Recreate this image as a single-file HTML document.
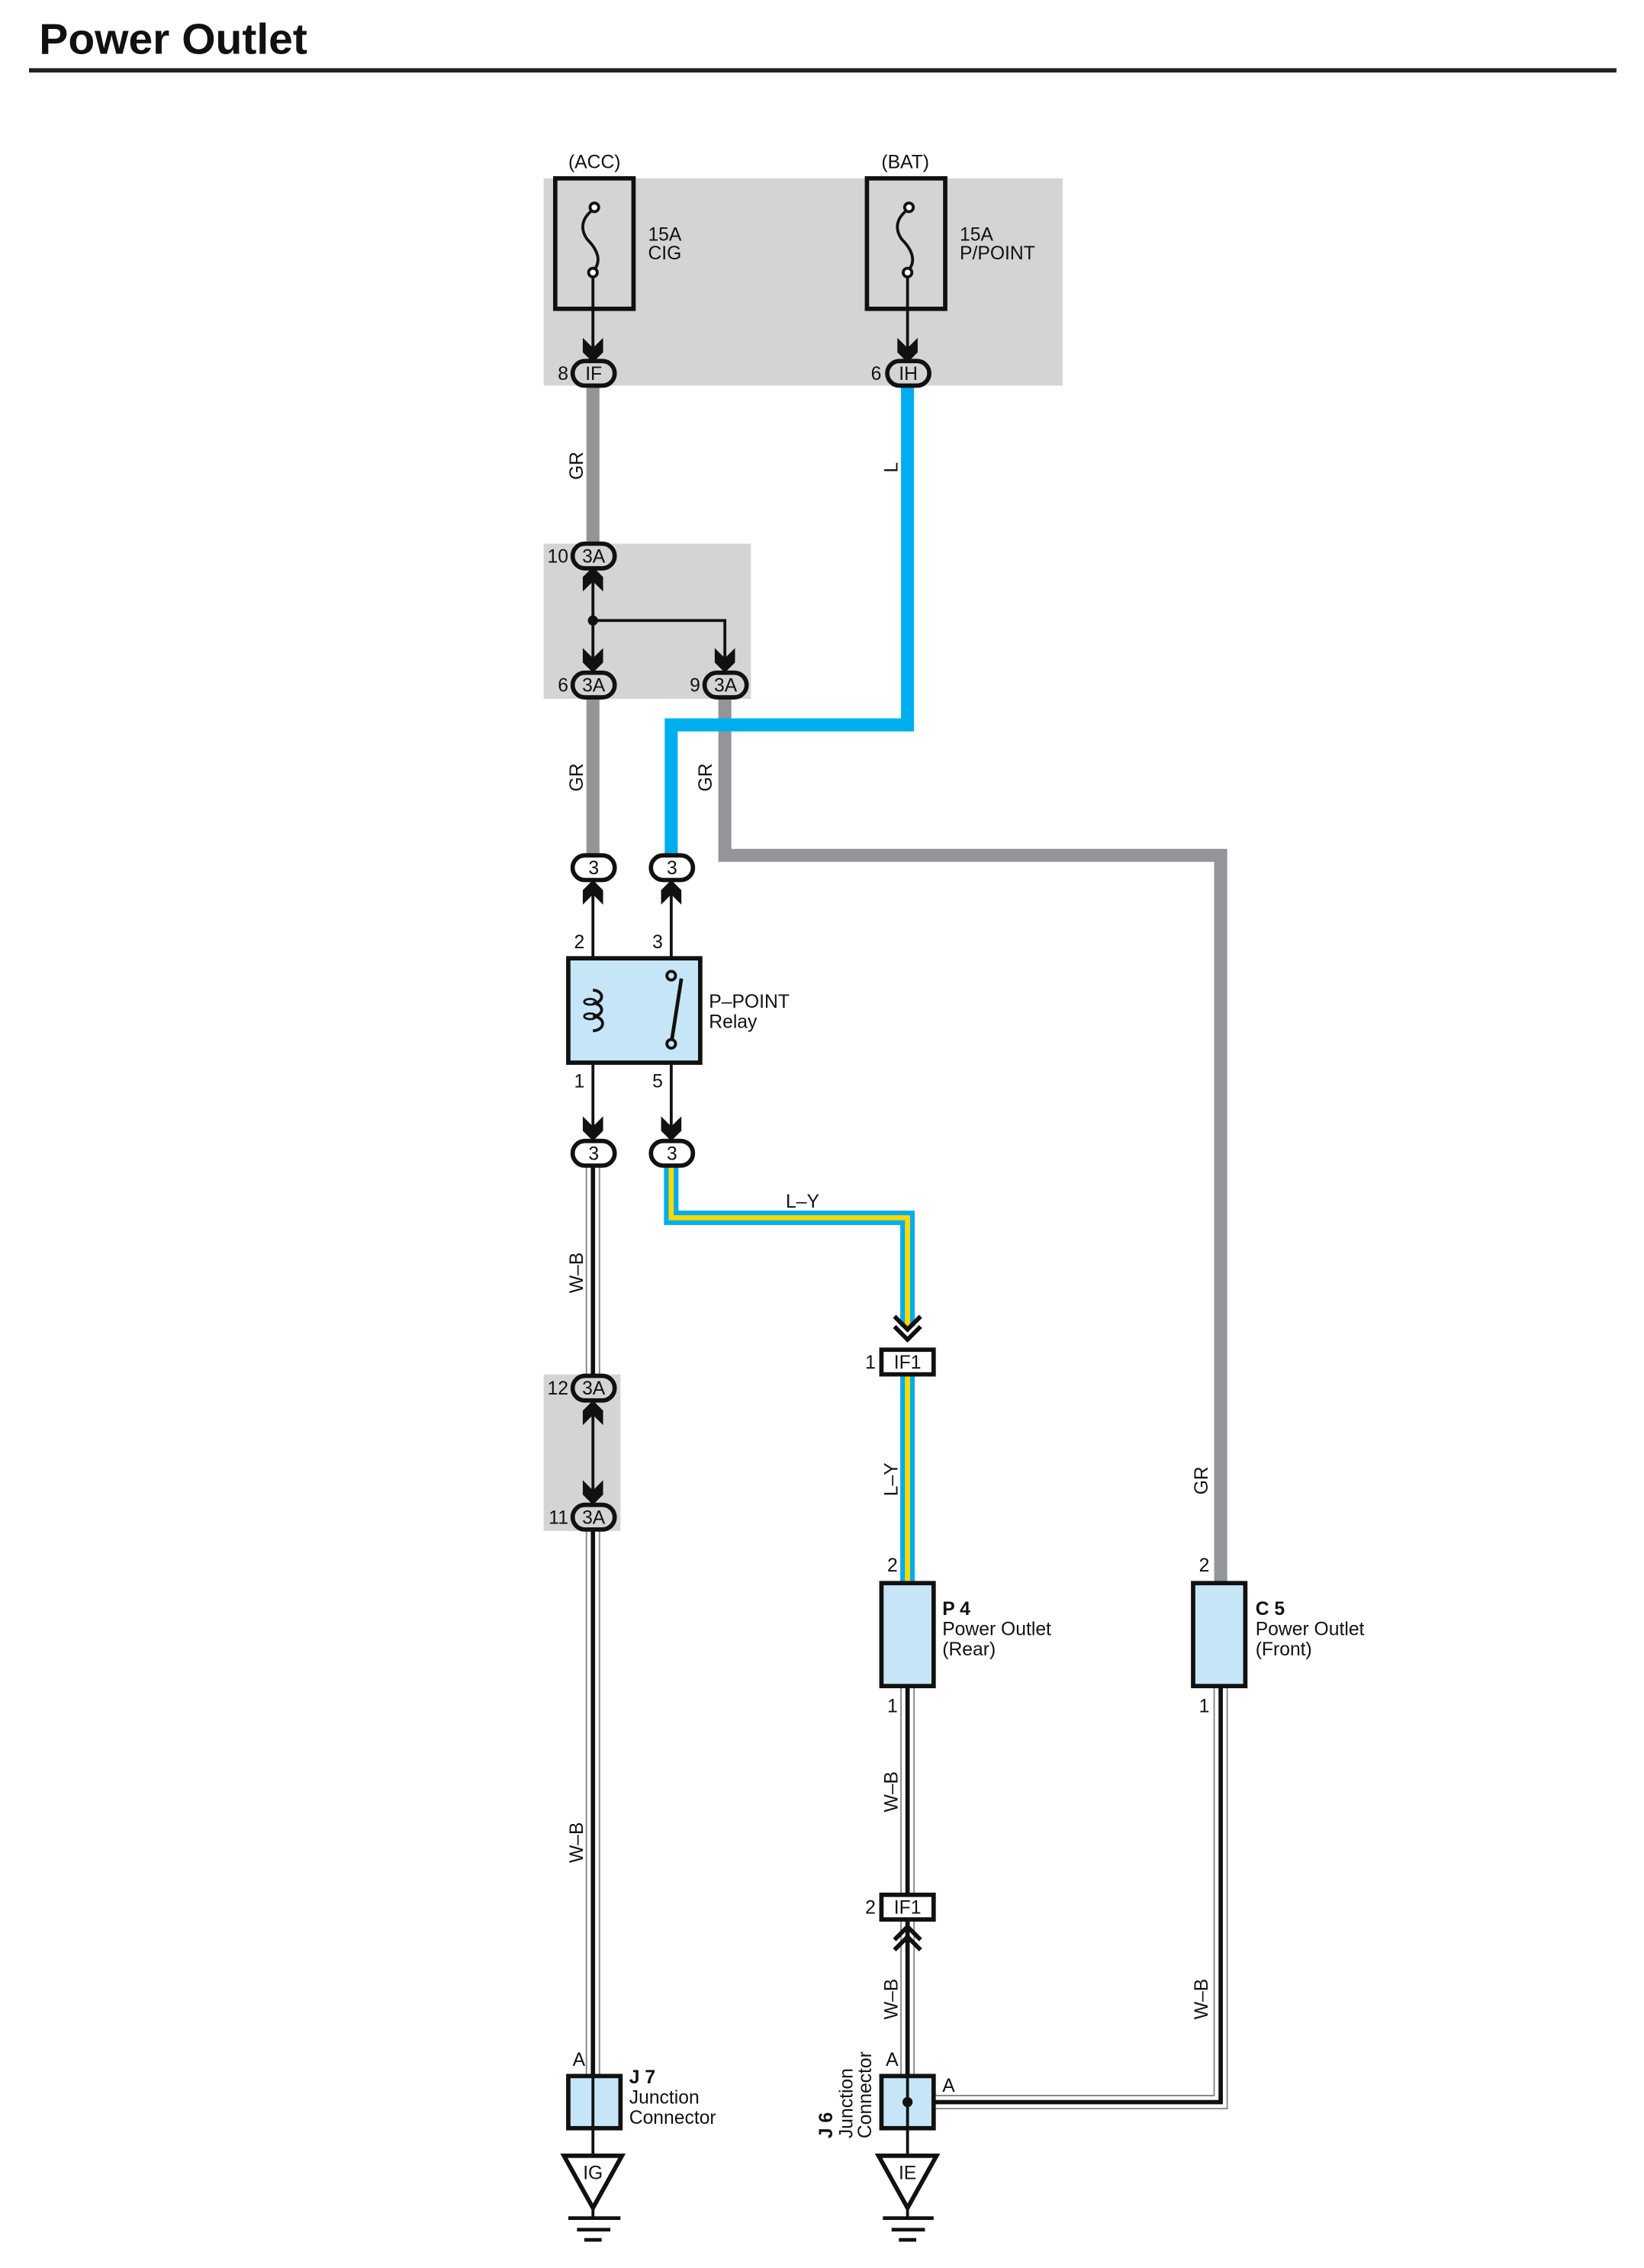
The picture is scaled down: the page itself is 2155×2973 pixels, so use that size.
<!DOCTYPE html>
<html><head><meta charset="utf-8"><style>
html,body{margin:0;padding:0;background:#fff;}
svg{display:block;}
text{font-family:"Liberation Sans",sans-serif;fill:#111;}
</style></head><body>
<svg width="2155" height="2973" viewBox="0 0 1134 1564.4" xmlns="http://www.w3.org/2000/svg">
<defs>
<g id="ad"><path d="M-7,-17 L0,-10 L7,-17 L7,-7 L0,0 L-7,-7 Z" fill="#111"/></g>
<g id="au"><path d="M-7,17 L0,10 L7,17 L7,7 L0,0 L-7,7 Z" fill="#111"/></g>
</defs>
<text x="27" y="37" font-size="30" font-weight="bold">Power Outlet</text>
<rect x="20" y="47" width="1095" height="3" fill="#222"/>

<rect x="375" y="123" width="358" height="143" fill="#d3d4d6"/>
<rect x="375" y="375" width="143" height="107" fill="#d3d4d6"/>
<rect x="375" y="948" width="53" height="108" fill="#d3d4d6"/>

<g fill="none" stroke-linejoin="miter">
<path d="M409,266 V375" stroke="#939598" stroke-width="9"/>
<path d="M409,482 V590" stroke="#939598" stroke-width="9"/>
<path d="M500,482 V590 H842 V1092" stroke="#939598" stroke-width="9"/>
<path d="M626,266 V500 H463 V590" stroke="#00aeef" stroke-width="9"/>
<path d="M463,804 V840 H626 V915" stroke="#00aeef" stroke-width="10"/>
<path d="M463,804 V840 H626 V915" stroke="#ffd800" stroke-width="3.5"/>
<path d="M626,948 V1092" stroke="#00aeef" stroke-width="10"/>
<path d="M626,948 V1092" stroke="#ffd800" stroke-width="3.5"/>
<path d="M409,804 V948 M409,1056 V1432 M626,1163 V1307 M626,1324 V1432 M842,1163 V1450 H644" stroke="#888" stroke-width="10"/>
<path d="M409,804 V948 M409,1056 V1432 M626,1163 V1307 M626,1324 V1432 M842,1163 V1450 H644" stroke="#fff" stroke-width="8"/>
<path d="M409,804 V948 M409,1056 V1432 M626,1163 V1307 M626,1324 V1432 M842,1163 V1450 H644" stroke="#111" stroke-width="3"/>
</g>

<g stroke="#111" stroke-width="2" fill="none">
<path d="M409,188 V250"/><path d="M626,188 V250"/>
<path d="M409,390 V465"/><path d="M409,428 H500 V465"/>
<path d="M409,606 V683"/><path d="M409,711 V787"/>
<path d="M463,722 V787"/>
<path d="M463,606 V670"/>
<path d="M409,975 V1040"/>
<path d="M409,1468 V1486"/><path d="M626,1468 V1486"/>
</g>

<g stroke="#111" fill="none">
<rect x="383" y="123" width="54" height="90" stroke-width="3"/>
<rect x="598" y="123" width="54" height="90" stroke-width="3"/>
<path d="M410,144 C401,150 400,158 405,165 C413,173 415,181 409,187" stroke-width="2"/>
<path d="M627,144 C618,150 617,158 622,165 C630,173 632,181 626,187" stroke-width="2"/>
<circle cx="410" cy="143" r="3" fill="#fff" stroke-width="2"/>
<circle cx="409" cy="188" r="3" fill="#fff" stroke-width="2"/>
<circle cx="627" cy="143" r="3" fill="#fff" stroke-width="2"/>
<circle cx="626" cy="188" r="3" fill="#fff" stroke-width="2"/>
</g>
<g font-size="13">
<text x="392" y="116">(ACC)</text>
<text x="608" y="116">(BAT)</text>
<text x="447" y="166">15A</text><text x="447" y="179">CIG</text>
<text x="662" y="166">15A</text><text x="662" y="179">P/POINT</text>
</g>

<use href="#ad" x="409" y="250"/><use href="#ad" x="626" y="250"/>
<use href="#au" x="409" y="391"/>
<use href="#ad" x="409" y="464"/><use href="#ad" x="500" y="464"/>
<use href="#au" x="409" y="607"/><use href="#au" x="463" y="607"/>
<use href="#ad" x="409" y="787"/><use href="#ad" x="463" y="787"/>
<use href="#au" x="409" y="966"/><use href="#ad" x="409" y="1038"/>
<g stroke="#111" stroke-width="3" fill="none">
<path d="M617,908 L626,917 L635,908 M617,915 L626,924 L635,915"/>
<path d="M617,1338 L626,1329 L635,1338 M617,1345 L626,1336 L635,1345"/>
</g>

<g stroke="#111" stroke-width="3">
<rect x="395" y="249" width="29" height="17" rx="8.5" fill="#d3d4d6"/>
<rect x="612" y="249" width="29" height="17" rx="8.5" fill="#d3d4d6"/>
<rect x="395" y="375" width="29" height="17" rx="8.5" fill="#d3d4d6"/>
<rect x="395" y="464" width="29" height="17" rx="8.5" fill="#d3d4d6"/>
<rect x="486" y="464" width="29" height="17" rx="8.5" fill="#d3d4d6"/>
<rect x="395" y="590" width="29" height="17" rx="8.5" fill="#fff"/>
<rect x="449" y="590" width="29" height="17" rx="8.5" fill="#fff"/>
<rect x="395" y="787" width="29" height="17" rx="8.5" fill="#fff"/>
<rect x="449" y="787" width="29" height="17" rx="8.5" fill="#fff"/>
<rect x="395" y="949" width="29" height="17" rx="8.5" fill="#d3d4d6"/>
<rect x="395" y="1038" width="29" height="17" rx="8.5" fill="#d3d4d6"/>
<rect x="608" y="931" width="36" height="17" fill="#fff"/>
<rect x="608" y="1307" width="36" height="17" fill="#fff"/>
</g>
<g font-size="13" text-anchor="middle">
<text x="409.5" y="262">IF</text><text x="626.5" y="262">IH</text>
<text x="409.5" y="388">3A</text><text x="409.5" y="477">3A</text><text x="500.5" y="477">3A</text>
<text x="409.5" y="603">3</text><text x="463.5" y="603">3</text>
<text x="409.5" y="800">3</text><text x="463.5" y="800">3</text>
<text x="409.5" y="962">3A</text><text x="409.5" y="1051">3A</text>
<text x="626" y="944">IF1</text><text x="626" y="1320">IF1</text>
</g>
<g font-size="13" text-anchor="end">
<text x="392" y="262">8</text><text x="608" y="262">6</text>
<text x="392" y="388">10</text><text x="392" y="477">6</text><text x="483" y="477">9</text>
<text x="392" y="962">12</text><text x="392" y="1051">11</text>
<text x="604" y="944">1</text><text x="604" y="1320">2</text>
</g>

<circle cx="409" cy="428" r="3.5" fill="#111"/>

<rect x="392" y="661" width="91" height="72" fill="#c6e6f8" stroke="#111" stroke-width="3"/>
<path d="M409,683 A6,4.5 0 0 1 409,692 A6,4.5 0 0 1 409,701 A6,4.5 0 0 1 409,711" fill="none" stroke="#111" stroke-width="2"/>
<ellipse cx="407" cy="691" rx="4" ry="2" fill="none" stroke="#111" stroke-width="1.5"/>
<ellipse cx="407" cy="701" rx="4" ry="2" fill="none" stroke="#111" stroke-width="1.5"/>
<path d="M463,720 L470,675" stroke="#111" stroke-width="2.5"/>
<circle cx="463" cy="673" r="3" fill="#c6e6f8" stroke="#111" stroke-width="2"/>
<circle cx="463" cy="720" r="3" fill="#c6e6f8" stroke="#111" stroke-width="2"/>
<g font-size="13">
<text x="396" y="654">2</text><text x="450" y="654">3</text>
<text x="396" y="750">1</text><text x="450" y="750">5</text>
<text x="489" y="695">P–POINT</text><text x="489" y="709">Relay</text>
<text x="542" y="833">L–Y</text>
</g>

<rect x="608" y="1092" width="36" height="71" fill="#c6e6f8" stroke="#111" stroke-width="3"/>
<rect x="823" y="1092" width="36" height="71" fill="#c6e6f8" stroke="#111" stroke-width="3"/>
<g font-size="13">
<text x="612" y="1084">2</text><text x="612" y="1181">1</text>
<text x="827" y="1084">2</text><text x="827" y="1181">1</text>
<text x="650" y="1114" font-weight="bold">P 4</text>
<text x="650" y="1128">Power Outlet</text><text x="650" y="1142">(Rear)</text>
<text x="866" y="1114" font-weight="bold">C 5</text>
<text x="866" y="1128">Power Outlet</text><text x="866" y="1142">(Front)</text>
</g>

<rect x="392" y="1432" width="36" height="36" fill="#c6e6f8" stroke="#111" stroke-width="3"/>
<rect x="608" y="1432" width="36" height="36" fill="#c6e6f8" stroke="#111" stroke-width="3"/>
<path d="M409,1432 V1468 M626,1432 V1468" stroke="#111" stroke-width="2"/>
<circle cx="626" cy="1450" r="3.5" fill="#111"/>
<g font-size="13">
<text x="395" y="1425">A</text><text x="611" y="1425">A</text><text x="650" y="1443">A</text>
<text x="434" y="1437" font-weight="bold">J 7</text>
<text x="434" y="1451">Junction</text><text x="434" y="1465">Connector</text>
<g transform="translate(574,1475) rotate(-90)"><text x="0" y="0" font-weight="bold">J 6</text></g>
<g transform="translate(588,1475) rotate(-90)"><text x="0" y="0">Junction</text></g>
<g transform="translate(601,1475) rotate(-90)"><text x="0" y="0">Connector</text></g>
</g>

<g stroke="#111" fill="#fff">
<path d="M389,1487 H429 L409,1523 Z" stroke-width="3"/>
<path d="M606,1487 H646 L626,1523 Z" stroke-width="3"/>
<path d="M392,1530 H428 M398,1538 H421 M403,1545 H415" stroke-width="2.5"/>
<path d="M609,1530 H644 M615,1538 H638 M620,1545 H632" stroke-width="2.5"/>
<path d="M409,1520 V1530 M626,1520 V1530" stroke-width="2"/>
</g>
<g font-size="13" text-anchor="middle">
<text x="409" y="1503">IG</text><text x="626" y="1503">IE</text>
</g>

<g font-size="13">
<g transform="translate(402,331) rotate(-90)"><text>GR</text></g>
<g transform="translate(402,546) rotate(-90)"><text>GR</text></g>
<g transform="translate(491,546) rotate(-90)"><text>GR</text></g>
<g transform="translate(619,326) rotate(-90)"><text>L</text></g>
<g transform="translate(402,892) rotate(-90)"><text>W–B</text></g>
<g transform="translate(402,1285) rotate(-90)"><text>W–B</text></g>
<g transform="translate(619,1032) rotate(-90)"><text>L–Y</text></g>
<g transform="translate(619,1250) rotate(-90)"><text>W–B</text></g>
<g transform="translate(619,1393) rotate(-90)"><text>W–B</text></g>
<g transform="translate(833,1031) rotate(-90)"><text>GR</text></g>
<g transform="translate(833,1393) rotate(-90)"><text>W–B</text></g>
</g>
</svg>
</body></html>
